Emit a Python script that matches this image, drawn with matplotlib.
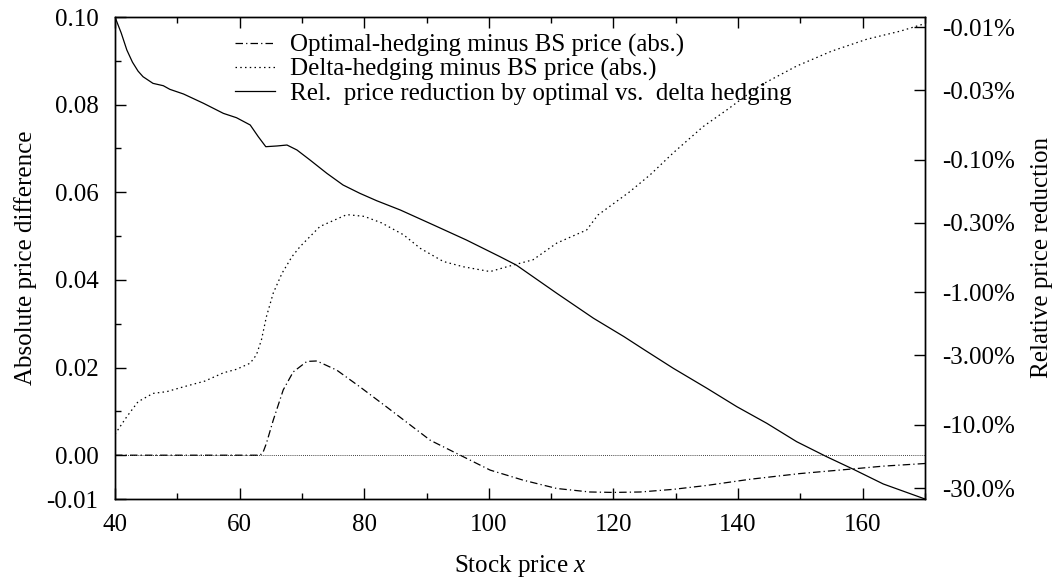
import matplotlib
matplotlib.use("Agg")
import matplotlib.pyplot as plt
import numpy as np
from matplotlib.ticker import FixedLocator, NullLocator, MultipleLocator

# ---- data ----
x_opt = [40, 63.3, 63.8, 64.3, 65.4, 67.0, 68.6, 70.8, 72.4, 75.6, 79.3, 83.6, 87.1,
         90.6, 95.4, 100.2, 105.5, 110.9, 116.2, 120.0, 124.3, 129.6, 135.0, 141.9,
         149.9, 157.9, 163.3, 170]
v_opt = [0, 0, 0.0008, 0.0027, 0.0080, 0.0149, 0.0190, 0.0214, 0.0215, 0.0194, 0.0156,
         0.0110, 0.0072, 0.0034, 0.0, -0.0034, -0.0057, -0.0076, -0.0084, -0.0085,
         -0.0084, -0.0078, -0.0069, -0.0055, -0.0042, -0.0032, -0.0025, -0.0019]

x_delta = [40, 41.9, 43.7, 46.1, 48.3, 51.0, 54.4, 57.4, 59.5, 61.7, 62.7, 63.5, 64.3,
           65.4, 66.8, 68.4, 69.7, 72.9, 77.2, 80.0, 82.8, 86.3, 89.0, 92.7, 95.9,
           100.2, 102.9, 107.1, 110.9, 115.7, 117.5, 122.5, 125.9, 129.6, 134.4,
           138.3, 143.3, 149.4, 155.0, 160.6, 166.1, 170]
v_delta = [0.0048, 0.0088, 0.0122, 0.0141, 0.0145, 0.0156, 0.0169, 0.0188, 0.0196,
           0.0210, 0.0229, 0.0263, 0.0316, 0.0370, 0.0415, 0.0453, 0.0476, 0.0522,
           0.0549, 0.0545, 0.0530, 0.0503, 0.0472, 0.0442, 0.0430, 0.0419, 0.0430,
           0.0446, 0.0484, 0.0514, 0.0548, 0.0600, 0.0640, 0.0690, 0.0750, 0.0789,
           0.0842, 0.0888, 0.0922, 0.0949, 0.0968, 0.0985]

x_rel = [40, 40.5, 41.0, 41.9, 42.8, 43.7, 44.5, 46.1, 47.75, 48.8, 51.0, 54.2, 57.4,
         59.5, 61.7, 63.0, 64.2, 66.0, 67.6, 69.2, 71.3, 74.0, 76.6, 79.3, 82.0,
         85.8, 91.1, 96.4, 101.8, 104.4, 110.9, 116.8, 121.7, 125.0, 129.6, 135.0,
         139.8, 144.6, 149.4, 154.2, 158.5, 163.3, 170]
rel_pct = [-0.0084, -0.00966, -0.0111, -0.0149, -0.0184, -0.0215, -0.0237, -0.0266,
           -0.0277, -0.0295, -0.0320, -0.0376, -0.0448, -0.0483, -0.0548, -0.0672,
           -0.0799, -0.0789, -0.0776, -0.0846, -0.1007, -0.1269, -0.1554, -0.1796,
           -0.2042, -0.240, -0.311, -0.404, -0.540, -0.624, -1.019, -1.573, -2.166,
           -2.729, -3.749, -5.305, -7.303, -9.743, -13.41, -17.40, -21.66, -27.96,
           -36.3]

left_ticks = [-0.01, 0.00, 0.02, 0.04, 0.06, 0.08, 0.10]
left_labels = ["-0.01", "0.00", "0.02", "0.04", "0.06", "0.08", "0.10"]
right_ticks = [0.01, 0.03, 0.1, 0.3, 1, 3, 10, 30]
right_labels = ["-0.01%", "-0.03%", "-0.10%", "-0.30%", "-1.00%", "-3.00%", "-10.0%", "-30.0%"]
x_ticks = [40, 60, 80, 100, 120, 140, 160]

labels = ["Optimal-hedging minus BS price (abs.)",
          "Delta-hedging minus BS price (abs.)",
          "Rel.  price reduction by optimal vs.  delta hedging"]

plt.rcParams['font.family'] = ['Liberation Serif', 'DejaVu Serif']
plt.rcParams['mathtext.fontset'] = 'custom'
plt.rcParams['mathtext.it'] = 'Liberation Serif:italic'
FS = 18

fig = plt.figure(figsize=(10.64, 5.87), dpi=100)
ax = fig.add_axes([115/1064, 1-499/587, (925-115)/1064, (499-17)/587])
ax2 = ax.twinx()

lw = 0.9
ax.axhline(0, color='black', lw=0.6, ls=(0, (1, 1.5)))
l1, = ax.plot(x_opt, v_opt, color='black', lw=lw, ls=(0, (6, 2.5, 1, 2.5)))
l2, = ax.plot(x_delta, v_delta, color='black', lw=lw, ls=(0, (1.2, 2.6)))
l3, = ax2.plot(x_rel, -np.array(rel_pct), color='black', lw=lw, ls='-')

ax.set_xlim(40, 170)
ax.set_ylim(-0.01, 0.10)
ax.set_xticks(x_ticks)
ax.set_xticklabels([str(t) for t in x_ticks])
ax.xaxis.set_minor_locator(MultipleLocator(10))
ax.set_yticks(left_ticks)
ax.set_yticklabels(left_labels)
ax.yaxis.set_minor_locator(FixedLocator([0.01, 0.03, 0.05, 0.07, 0.09]))
ax.tick_params(axis='x', which='both', direction='in', top=True, bottom=True)
ax.tick_params(axis='y', which='both', direction='in', left=True, right=False)
ax.tick_params(which='major', length=8, width=1.0, labelsize=FS)
ax.tick_params(which='minor', length=4, width=1.0)
ax.tick_params(axis='x', pad=11)
ax.tick_params(axis='y', pad=12)

ax2.set_yscale('log')
ax2.set_ylim(36.3, 0.0084)
ax2.yaxis.set_major_locator(FixedLocator(right_ticks))
ax2.yaxis.set_minor_locator(NullLocator())
ax2.set_yticklabels(right_labels)
ax2.tick_params(axis='y', which='major', direction='in', length=8, width=1.0,
                labelsize=FS, pad=12)

for a in (ax, ax2):
    for s in a.spines.values():
        s.set_linewidth(1.0)

ax.set_xlabel("Stock price $x$", fontsize=FS, labelpad=12)
ax.set_ylabel("Absolute price difference", fontsize=FS, labelpad=7)
ax2.set_ylabel("Relative price reduction", fontsize=FS, labelpad=12)

leg = ax.legend([l1, l2, l3], labels, loc='upper left',
                bbox_to_anchor=((235-115)/810, (499-34)/482), frameon=False,
                fontsize=FS, handlelength=1.6, handletextpad=0.6,
                labelspacing=0.05, borderpad=0, borderaxespad=0)

fig.savefig("out.png", dpi=100)
